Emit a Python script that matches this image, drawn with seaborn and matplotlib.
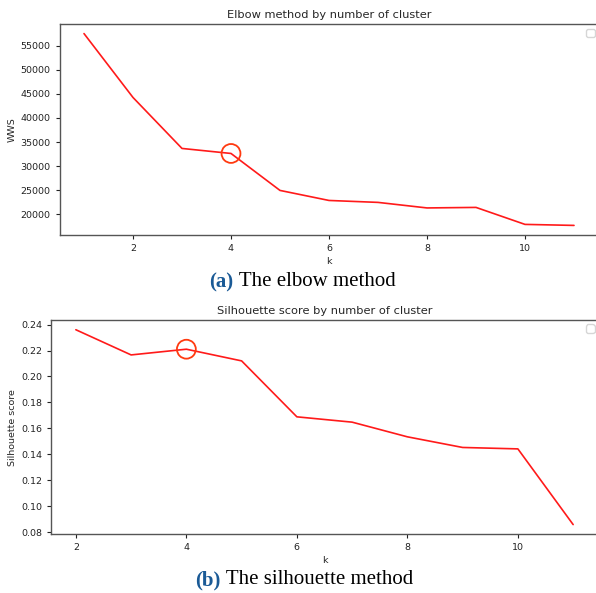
import matplotlib
matplotlib.use("Agg")
import matplotlib.pyplot as plt
import seaborn as sns
import pandas as pd

# ---- data ----
k_elbow = [1, 2, 3, 4, 5, 6, 7, 8, 9, 10, 11]
wws = [57480, 44240, 33680, 32640, 24980, 22900, 22500, 21350, 21460, 17940, 17730]
elbow_k = [4]
elbow_val = [32640]

k_sil = [2, 3, 4, 5, 6, 7, 8, 9, 10, 11]
sil = [0.236, 0.2166, 0.221, 0.212, 0.1689, 0.1648, 0.1535, 0.1453, 0.1442, 0.0859]
sil_k = [4]
sil_val = [0.221]

title_a = "Elbow method by number of cluster"
title_b = "Silhouette score by number of cluster"
caption_a = ("(a)", " The elbow method")
caption_b = ("(b)", " The silhouette method")

sns.set_style("ticks")
plt.rcParams['font.family'] = ['DejaVu Sans']

W, H = 596, 593
fig = plt.figure(figsize=(W / 100, H / 100), dpi=100)

ax1 = fig.add_axes([59.5 / W, 1 - 235 / H, 539 / W, 211 / H])
ax2 = fig.add_axes([51 / W, 1 - 534.3 / H, 547 / W, 214.3 / H])

df1 = pd.DataFrame({"k": k_elbow, "WWS": wws})
df2 = pd.DataFrame({"k": k_sil, "Silhouette score": sil})

line_col = "#ff1a1a"
circ_col = "#ff3a10"
spine_col = "#555555"
tick_fs = 6.8

for ax, df, ycol, ck, cv, title in [
    (ax1, df1, "WWS", elbow_k, elbow_val, title_a),
    (ax2, df2, "Silhouette score", sil_k, sil_val, title_b),
]:
    sns.lineplot(data=df, x="k", y=ycol, ax=ax, color=line_col, linewidth=1.2)
    ax.scatter(ck, cv, s=185, facecolors="none", edgecolors=circ_col, linewidths=1.3, zorder=5)
    ax.set_title(title, fontsize=8.2, pad=4)
    ax.set_xlabel("k", fontsize=6.8, labelpad=3)
    ax.set_ylabel(ycol, fontsize=6.8, labelpad=2.5)
    ax.tick_params(labelsize=tick_fs, length=3, width=0.8, colors="#222222")
    for s in ax.spines.values():
        s.set_visible(True)
        s.set_color(spine_col)
        s.set_linewidth(1.0)
    ax.spines["right"].set_visible(False)
    ax.legend(handles=[], loc="upper right", fontsize=8,
              bbox_to_anchor=(1.004, 1.005))

ax1.set_xticks([2, 4, 6, 8, 10])
ax1.set_yticks([20000, 25000, 30000, 35000, 40000, 45000, 50000, 55000])
ax2.set_xticks([2, 4, 6, 8, 10])
ax2.set_yticks([0.08, 0.10, 0.12, 0.14, 0.16, 0.18, 0.20, 0.22, 0.24])
ax2.set_yticklabels([f"{v:.2f}" for v in [0.08, 0.10, 0.12, 0.14, 0.16, 0.18, 0.20, 0.22, 0.24]])

cap_blue = "#1a5a96"
cap_fs = 15
for (lab, rest), xr, xl, yc in [
    (caption_a, 233, 234, 282),
    (caption_b, 220, 221, 580),
]:
    fig.text(xr / W, 1 - yc / H, lab, ha="right", va="center", fontsize=cap_fs,
             fontweight="bold", color=cap_blue, family="Liberation Serif")
    fig.text(xl / W, 1 - yc / H, rest, ha="left", va="center", fontsize=cap_fs,
             color="black", family="Liberation Serif")

fig.savefig("out.png", dpi=100)
